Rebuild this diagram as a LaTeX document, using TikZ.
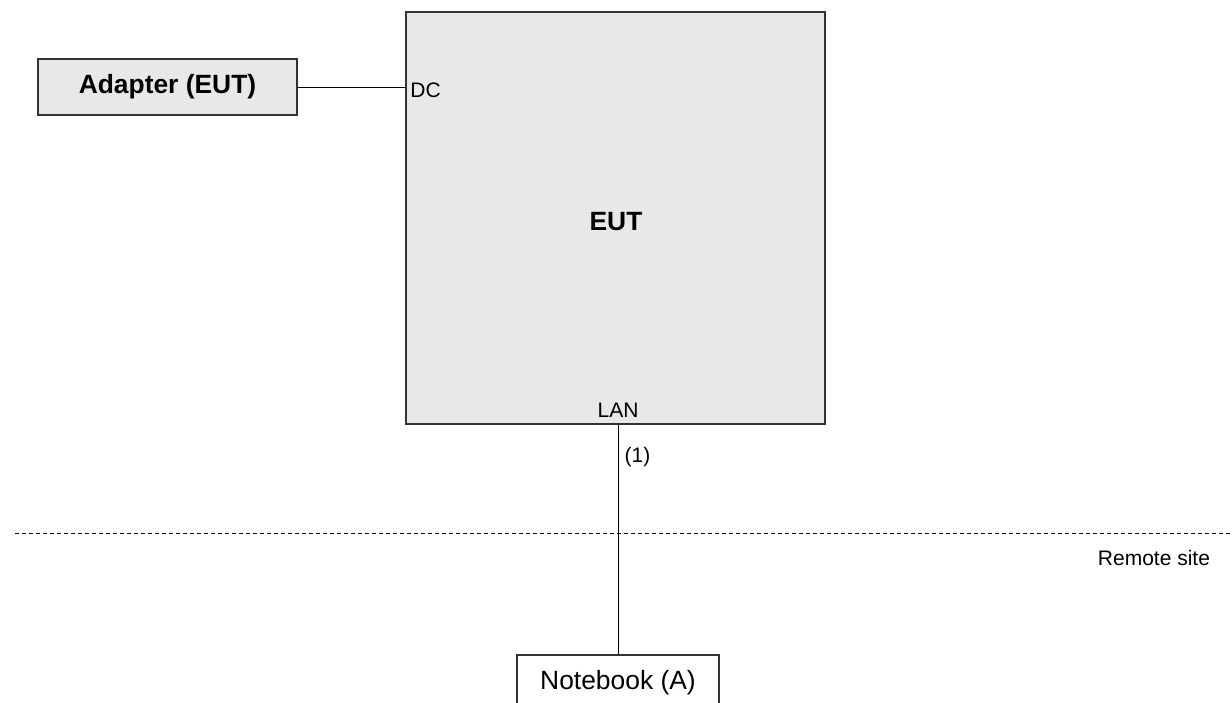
\documentclass[tikz,border=0pt]{standalone}
\usepackage{fontspec}
\setmainfont{Liberation Sans}
\usetikzlibrary{positioning}
\definecolor{boxgray}{RGB}{232,232,232}

\begin{document}
\begin{tikzpicture}[
    x=0.5pt, y=-0.5pt,
    unit/.style={rectangle, draw=black!80, line width=0.6pt, fill=boxgray, inner sep=0pt, font=\fontsize{13.2}{15}\selectfont\bfseries},
    pc/.style={rectangle, draw=black!80, line width=0.6pt, fill=white, inner sep=0pt, minimum width=101pt, minimum height=28pt, font=\fontsize{13.2}{15}\selectfont},
    port/.style={inner sep=0pt, font=\fontsize{10.5}{12}\selectfont},
    cable/.style={line width=0.5pt},
]
\useasboundingbox (0,0) rectangle (1232,702);
\clip (0,0) rectangle (1232,702);

% Nodes
\node[unit, minimum width=209.5pt, minimum height=206pt] (eut) at (615.5,218) {};
\node[font=\fontsize{13.2}{15}\selectfont\bfseries] (eutlabel) at (616,222) {EUT};
\node[unit, minimum width=129.5pt, minimum height=28pt] (adapter) at (167.5,87) {Adapter (EUT)};
\node[pc] (nb) at (618,683) {Notebook (A)};

% Port labels
\node[port, anchor=west] (dc) at (410,90) {DC};
\node[port] (lan) at (618,410) {LAN};
\node[port] (cab1) at (637.5,457) {(1)};
\node[port] (remote) at (1154,558) {Remote site};

% Cables
\draw[cable] (adapter.east) -- (adapter.east -| eut.west);
\draw[cable] (nb.north) -- (nb.north |- eut.south);

% Site border
\coordinate (siteL) at (15,533);
\coordinate (siteR) at (1232,533);
\draw[cable, dash pattern=on 2pt off 1.5pt] (siteL) -- (siteR);

\end{tikzpicture}
\end{document}
